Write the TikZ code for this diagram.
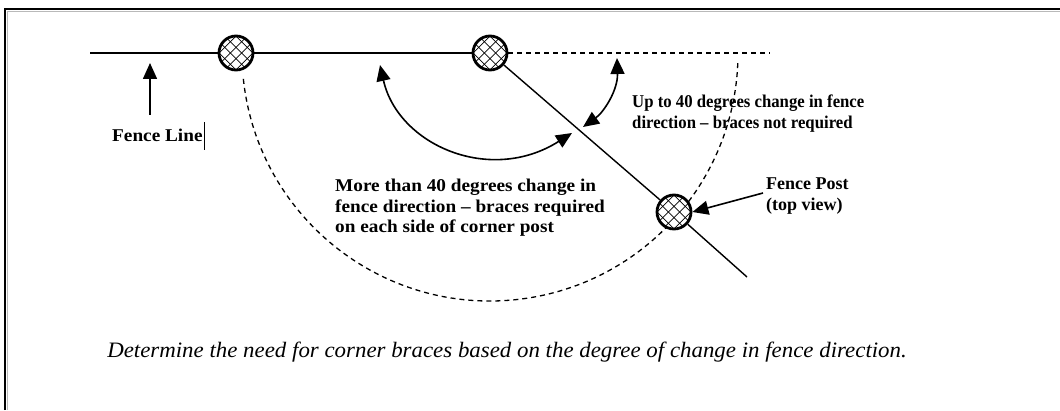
\documentclass[tikz,border=0pt]{standalone}
\usepackage{fontspec}
\setmainfont{Liberation Serif}
\usetikzlibrary{arrows.meta,backgrounds,calc}
\begin{document}
\begin{tikzpicture}[x=1pt,y=1pt,
  >={Triangle[length=16pt,width=14pt]},
  post/.style={circle,draw,line width=2.8pt,minimum size=34pt,inner sep=0pt,fill=white,
    path picture={\foreach \d in {-12,-4,4,12}{
      \draw[line width=0.7pt] ([shift={(\d*0.7071-20,-\d*0.7071-20)}]path picture bounding box.center) -- ++(40,40);
      \draw[line width=0.7pt] ([shift={(\d*0.7071-20,\d*0.7071+20)}]path picture bounding box.center) -- ++(40,-40);}}},
  fence/.style={line width=1.8pt},
  guide/.style={line width=1.3pt,dash pattern=on 5pt off 4pt},
  diag/.style={line width=1.4pt},
  pointer/.style={line width=1.6pt,->},
  twoway/.style={line width=1.6pt,<->},
  lbl/.style={inner sep=0pt,font=\fontsize{18}{20.5}\selectfont\bfseries},
]
\useasboundingbox (0,0) rectangle (1060,410);
% frame
\draw[gray!55,line width=1pt] (7.6,0) -- (7.6,398.6) -- (1060,398.6);
\draw[line width=2pt] (5,0) -- (5,401) -- (1060,401);

% posts
\node[post] (p1) at (236,357) {};
\node[post] (p2) at (490,357) {};
\node[post] (p3) at (674,198) {};
\coordinate (fenceW) at (90,357);
\coordinate (dashE) at (770,357);
\coordinate (diagE) at (747,133);

% dashed arc
\begin{scope}[on background layer]
\draw[guide] ([shift={(186:248pt)}]p2.center) arc[start angle=186,end angle=358,radius=248pt];
\end{scope}

% fence lines
\draw[fence] (fenceW) -- (p1);
\draw[fence] (p1) -- (p2);
\draw[guide] (p2) -- (dashE);
\draw[diag] (p2) -- (p3);
\draw[diag] (p3) -- (diagE);

% labels
\node[lbl,anchor=base west] (fl) at (112,268) {\scalebox{1.07}[1]{Fence Line}};
\draw[line width=0.9pt] ([xshift=1.5pt]fl.east) ++(0,-14) -- ++(0,28);
\coordinate (flTail) at (150,295);
\coordinate (flTip) at (150,347);
\draw[pointer] (flTail) -- (flTip);

\node[lbl,anchor=base west] (upto) at (632,302)
  {\scalebox{0.93}[1]{\begin{tabular}[t]{@{}l@{}}Up to 40 degrees change in fence\\[0.5pt]direction -- braces not required\end{tabular}}};
\node[lbl,anchor=base west] (more) at (335,218)
  {\scalebox{1.07}[1]{\begin{tabular}[t]{@{}l@{}}More than 40 degrees change in\\fence direction -- braces required\\on each side of corner post\end{tabular}}};
\node[lbl,anchor=base west] (fp) at (766,220)
  {\scalebox{1.0}[1]{\begin{tabular}[t]{@{}l@{}}Fence Post\\(top view)\end{tabular}}};

% arrows
\coordinate (A1) at (380,345);
\coordinate (A2) at (572,277);
\draw[twoway] (A1) .. controls (398,265) and (490,225) .. (A2);
\coordinate (B1) at (617,352);
\coordinate (B2) at (583,283);
\draw[twoway] (B1) .. controls (618,320) and (604,298) .. (B2);
\coordinate (fpTail) at (763,217);
\draw[pointer] (fpTail) -- (p3.east);

% caption
\node[inner sep=0pt,font=\fontsize{22}{26}\selectfont\itshape] (cap) at (507,58)
  {\scalebox{1.04}[1]{Determine the need for corner braces based on the degree of change in fence direction.}};
\end{tikzpicture}
\end{document}
